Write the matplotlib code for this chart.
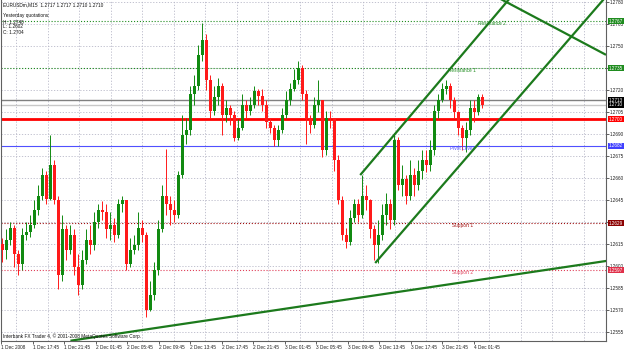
import numpy as np
import matplotlib
matplotlib.use("Agg")
import matplotlib.pyplot as plt
import matplotlib.transforms as mtransforms

plt.rcParams['font.family'] = ['Liberation Sans', 'DejaVu Sans']

# EURUSDm M15 (one candle read per ~30 min off the screenshot)
closes = [1.2611, 1.2618, 1.2626, 1.2608, 1.2601, 1.2621, 1.2623, 1.2628, 1.2638, 1.2648,
          1.2662, 1.2646, 1.2669, 1.2645, 1.2594, 1.2625, 1.2611, 1.2621, 1.2599, 1.2587,
          1.2604, 1.2618, 1.2614, 1.2630, 1.2638, 1.2637, 1.2625, 1.2628, 1.2621, 1.2642,
          1.2645, 1.2601, 1.2611, 1.2614, 1.2626, 1.2621, 1.2570, 1.2580, 1.2597, 1.2625,
          1.2648, 1.2642, 1.2638, 1.2635, 1.2662, 1.2689, 1.2693, 1.2717, 1.2723, 1.2744,
          1.2754, 1.2727, 1.2706, 1.2715, 1.2723, 1.2703, 1.2708, 1.2703, 1.2687, 1.2694,
          1.2710, 1.2706, 1.2710, 1.2719, 1.2716, 1.2710, 1.2698, 1.2694, 1.2686, 1.2693,
          1.2703, 1.2713, 1.2721, 1.2727, 1.2735, 1.2717, 1.2700, 1.2696, 1.2710, 1.2713,
          1.2679, 1.2701, 1.2700, 1.2672, 1.2645, 1.2621, 1.2616, 1.2633, 1.2642, 1.2635,
          1.2648, 1.2645, 1.2625, 1.2614, 1.2621, 1.2635, 1.2642, 1.2631, 1.2686, 1.2655,
          1.2659, 1.2648, 1.2662, 1.2655, 1.2665, 1.2672, 1.2669, 1.2679, 1.2706, 1.2713,
          1.2721, 1.2723, 1.2713, 1.2705, 1.2694, 1.2687, 1.2693, 1.2708, 1.2705, 1.2715,
          1.2710]
highs = [1.2619, 1.2625, 1.2630, 1.2628, 1.2611, 1.2626, 1.2630, 1.2635, 1.2645, 1.2655,
         1.2667, 1.2665, 1.2689, 1.2672, 1.2648, 1.2635, 1.2628, 1.2628, 1.2625, 1.2608,
         1.2611, 1.2625, 1.2628, 1.2637, 1.2642, 1.2644, 1.2642, 1.2637, 1.2633, 1.2646,
         1.2648, 1.2645, 1.2619, 1.2621, 1.2637, 1.2631, 1.2623, 1.2590, 1.2603, 1.2631,
         1.2655, 1.2680, 1.2648, 1.2645, 1.2665, 1.2703, 1.2701, 1.2723, 1.2730, 1.2751,
         1.2766, 1.2758, 1.2730, 1.2723, 1.2728, 1.2725, 1.2713, 1.2710, 1.2706, 1.2700,
         1.2717, 1.2713, 1.2715, 1.2723, 1.2721, 1.2721, 1.2713, 1.2701, 1.2696, 1.2696,
         1.2708, 1.2719, 1.2725, 1.2734, 1.2740, 1.2737, 1.2720, 1.2703, 1.2715, 1.2727,
         1.2713, 1.2706, 1.2706, 1.2701, 1.2676, 1.2648, 1.2626, 1.2638, 1.2646, 1.2646,
         1.2662, 1.2655, 1.2646, 1.2628, 1.2631, 1.2642, 1.2650, 1.2646, 1.2691, 1.2688,
         1.2669, 1.2662, 1.2672, 1.2667, 1.2672, 1.2679, 1.2679, 1.2686, 1.2710, 1.2717,
         1.2725, 1.2727, 1.2725, 1.2715, 1.2706, 1.2696, 1.2698, 1.2713, 1.2713, 1.2717,
         1.2717]
lows = [1.2603, 1.2605, 1.2614, 1.2599, 1.2594, 1.2597, 1.2618, 1.2620, 1.2626, 1.2635,
        1.2645, 1.2642, 1.2645, 1.2642, 1.2584, 1.2590, 1.2604, 1.2608, 1.2594, 1.2580,
        1.2584, 1.2601, 1.2608, 1.2611, 1.2626, 1.2631, 1.2619, 1.2618, 1.2616, 1.2619,
        1.2637, 1.2597, 1.2599, 1.2608, 1.2611, 1.2616, 1.2565, 1.2569, 1.2577, 1.2594,
        1.2623, 1.2635, 1.2628, 1.2630, 1.2633, 1.2660, 1.2683, 1.2689, 1.2710, 1.2720,
        1.2740, 1.2720, 1.2701, 1.2703, 1.2710, 1.2689, 1.2698, 1.2696, 1.2685, 1.2686,
        1.2693, 1.2701, 1.2703, 1.2708, 1.2710, 1.2706, 1.2694, 1.2691, 1.2682, 1.2682,
        1.2691, 1.2701, 1.2710, 1.2719, 1.2724, 1.2713, 1.2683, 1.2691, 1.2694, 1.2705,
        1.2674, 1.2676, 1.2694, 1.2665, 1.2642, 1.2618, 1.2612, 1.2614, 1.2630, 1.2630,
        1.2633, 1.2638, 1.2619, 1.2604, 1.2602, 1.2618, 1.2628, 1.2625, 1.2628, 1.2652,
        1.2648, 1.2642, 1.2645, 1.2648, 1.2652, 1.2659, 1.2664, 1.2665, 1.2676, 1.2701,
        1.2712, 1.2717, 1.2708, 1.2701, 1.2689, 1.2679, 1.2678, 1.2689, 1.2698, 1.2703,
        1.2708]
first_open = 1.2615

time_labels = ['1 Dec 2008', '1 Dec 17:45', '1 Dec 21:45', '2 Dec 01:45', '2 Dec 05:45',
               '2 Dec 09:45', '2 Dec 13:45', '2 Dec 17:45', '2 Dec 21:45', '3 Dec 01:45',
               '3 Dec 05:45', '3 Dec 09:45', '3 Dec 13:45', '3 Dec 17:45', '3 Dec 21:45',
               '4 Dec 01:45']
price_ticks = [1.2780, 1.2765, 1.2750, 1.2735, 1.2720, 1.2705, 1.2690, 1.2675, 1.2660,
               1.2645, 1.2630, 1.2615, 1.2600, 1.2585, 1.2570, 1.2555]

# yesterday H/L/C and the pivot levels drawn from them
yesterday = {'H': 1.2740, 'L': 1.2602, 'C': 1.2704}
level_names = ['Resistance 2', 'Resistance 1', 'Pivot Level', 'Support 1', 'Support 2']
level_prices = [1.2767, 1.2735, 1.2682, 1.2629, 1.2597]
level_colors = ['#1f8c1f', '#1f8c1f', '#5050ff', '#a01010', '#e0405a']
level_styles = [':', ':', '-', ':', ':']

round_level = 1.2700
ask_line = 1.2713
bid_line = 1.2710

# trend lines: (bar, price) end points
trend_bottom = [(17, 1.2549), (155, 1.2605)]
channel_low = [(93.25, 1.2602), (153, 1.2790)]
channel_high = [(89.5, 1.2662), (128, 1.2786)]
trend_down = [(124, 1.2783), (151, 1.2744)]

opens = [first_open] + closes[:-1]
x = np.arange(len(closes))

fig = plt.figure(figsize=(6.25, 3.5), dpi=100)
ax = fig.add_axes([0.5 / 625, 9 / 350, 605.5 / 625, 341 / 350])
ax.set_xlim(-0.5, 151)
ax.set_ylim(1.25488, 1.27814)

fs = 3.4
grid_kw = dict(color='#b8b8c8', lw=0.6, ls=(0, (1.5, 2)), zorder=0)
for p in price_ticks:
    ax.axhline(p, **grid_kw)
for k in range(19):
    ax.axvline(3.45 + 7.8875 * k, **grid_kw)

# candles
up = np.array(closes) >= np.array(opens)
body_lo = np.minimum(opens, closes)
body_h = np.maximum(np.abs(np.array(closes) - np.array(opens)), 0.00005)
col = np.where(up, '#118a11', '#ff1a1a')
ax.vlines(x, lows, highs, colors=col, lw=0.7, zorder=3)
ax.bar(x, body_h, bottom=body_lo, width=0.75, color=col, edgecolor='none', zorder=3)

# horizontal levels
for name, p, c, ls in zip(level_names, level_prices, level_colors, level_styles):
    ax.axhline(p, color=c, lw=0.8, ls=ls, zorder=2)
ax.axhline(ask_line, color='#808080', lw=1.0, zorder=2)
ax.axhline(bid_line, color='#c8c8c8', lw=1.0, zorder=2)
ax.axhline(round_level, color='#ff0000', lw=2.0, zorder=2)

label_x = [119, 111.5, 112, 112.5, 112.5]
for name, p, c, lx in zip(level_names, level_prices, level_colors, label_x):
    ax.text(lx, p, name, fontsize=fs, color=c, va='top', ha='left', zorder=4)

# trend lines
for seg in [trend_bottom, channel_low, channel_high, trend_down]:
    xs, ys = zip(*seg)
    ax.plot(xs, ys, color='#1c7a1c', lw=1.6, zorder=4, solid_capstyle='butt')

# axes look
for s in ax.spines.values():
    s.set_color('#606060')
    s.set_linewidth(0.8)
ax.spines['top'].set_visible(False)
ax.yaxis.tick_right()
ax.set_yticks(price_ticks)
ax.set_yticklabels([f'{p:.4f}' for p in price_ticks])
ax.tick_params(axis='y', labelsize=3.3, length=2, width=0.5, pad=0.8, colors='#202020')
ax.set_xticks(np.arange(len(time_labels)) * 7.8875 - 0.375)
ax.set_xticklabels(time_labels, ha='left')
ax.tick_params(axis='x', labelsize=fs, length=2, width=0.5, pad=0.8, colors='#202020')

# price boxes on the right scale
tr = mtransforms.blended_transform_factory(ax.transAxes, ax.transData)
boxes = [(level_prices[0], '#1f8c1f'), (level_prices[1], '#1f8c1f'),
         (ask_line, '#000000'), (bid_line, '#000000'), (round_level, '#ff0000'),
         (level_prices[2], '#4040ff'), (level_prices[3], '#8b0000'), (level_prices[4], '#e0304a')]
for p, c in boxes:
    ax.text(1.005, p, f'{p:.4f}', transform=tr, fontsize=3.3, color='white', va='center',
            ha='left', clip_on=False, zorder=6,
            bbox=dict(facecolor=c, edgecolor='none', pad=0.4))

# header text
head = ['EURUSDm,M15  1.2717 1.2717 1.2710 1.2710', 'Yesterday quotations:',
        f"H: {yesterday['H']:.4f}", f"L: {yesterday['L']:.4f}", f"C: {yesterday['C']:.4f}"]
ys_head = [5, 16, 22, 27, 32]
for t, yy in zip(head, ys_head):
    fig.text(3 / 625, 1 - yy / 350, t, fontsize=fs, va='center', ha='left', color='#101010')
fig.text(3 / 625, 1 - 336 / 350, 'Interbank FX Trader 4, \u00a9 2001-2008 MetaQuotes Software Corp.',
         fontsize=fs, va='center', ha='left', color='#101010')

fig.savefig('out.png', dpi=100, facecolor='white')
